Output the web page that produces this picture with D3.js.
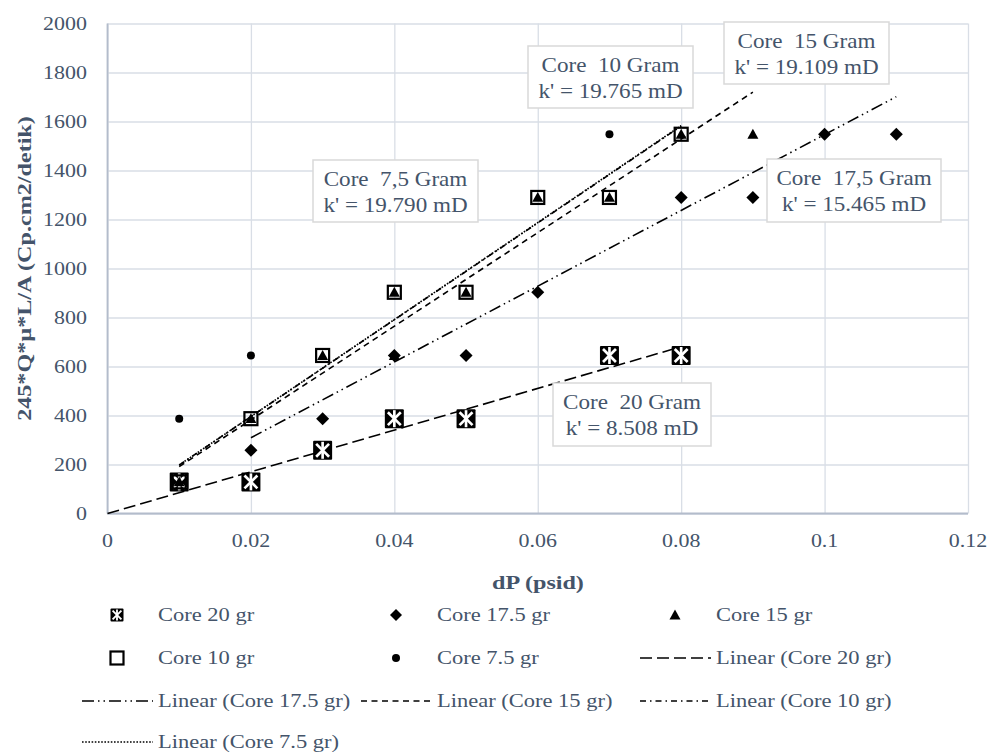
<!DOCTYPE html>
<html><head><meta charset="utf-8">
<script src="https://cdn.jsdelivr.net/npm/d3@7"></script>
<style>
body{margin:0;background:#fff}
text{font-family:"Liberation Serif","Times New Roman",serif;fill:#44546A;white-space:pre}
</style>
</head><body><svg id="c" width="989" height="756"></svg>
<script>
// ---------- data ----------
const xTicks = [0, 0.02, 0.04, 0.06, 0.08, 0.1, 0.12];
const xTickLabels = ["0", "0.02", "0.04", "0.06", "0.08", "0.1", "0.12"];
const yTicks = [0, 200, 400, 600, 800, 1000, 1200, 1400, 1600, 1800, 2000];
const seriesNames = ["Core 20 gr", "Core 17.5 gr", "Core 15 gr", "Core 10 gr", "Core 7.5 gr"];
const core20X = [0.01, 0.02, 0.03, 0.04, 0.05, 0.07, 0.08];
const core20Y = [129, 129, 258, 387, 387, 645, 645];
const core175X = [0.02, 0.03, 0.04, 0.05, 0.06, 0.08, 0.09, 0.1, 0.11];
const core175Y = [258, 387, 645, 645, 903, 1290, 1290, 1548, 1548];
const core15X = [0.01, 0.02, 0.03, 0.04, 0.04, 0.05, 0.06, 0.07, 0.08, 0.09];
const core15Y = [129, 387, 645, 645, 903, 903, 1290, 1290, 1548, 1548];
const core10X = [0.01, 0.02, 0.03, 0.04, 0.05, 0.06, 0.07, 0.08];
const core10Y = [129, 387, 645, 903, 903, 1290, 1290, 1548];
const core75X = [0.01, 0.02, 0.07];
const core75Y = [387, 645, 1548];
// linear trendlines (intercept 0): y = slope * x
const trendSlope = [8508, 15465, 19109, 19765, 19790];
const trendFrom = [0, 0.02, 0.01, 0.01, 0.01];
const trendTo = [0.08, 0.11, 0.09, 0.08, 0.08];
const annLine1 = ["Core  20 Gram", "Core  17,5 Gram", "Core  15 Gram", "Core  10 Gram", "Core  7,5 Gram"];
const annLine2 = ["k' = 8.508 mD", "k' = 15.465 mD", "k' = 19.109 mD", "k' = 19.765 mD", "k' = 19.790 mD"];
const xTitle = "dP (psid)";
const yTitle = "245*Q*µ*L/A (Cp.cm2/detik)";

// ---------- layout ----------
const svg = d3.select("#c");
const L = 107.5, R = 968, T = 23.5, B = 513.5;
const x = d3.scaleLinear().domain([0, 0.12]).range([L, R]);
const y = d3.scaleLinear().domain([0, 2000]).range([B, T]);
const TXT = "#44546A", GRID = "#d9dee6", AXIS = "#b3bccb";

function stext(parent, px, py, str, o) {
  const g = parent.append("g").attr("transform",
    `translate(${px},${py})` + (o.rot ? ` rotate(${o.rot})` : "") + ` scale(${o.sx || 1},1)`);
  return g.append("text").attr("text-anchor", o.anchor || "start").attr("dy", "0.35em")
    .style("font-size", o.size + "px").style("font-weight", o.weight || "normal").text(str);
}

// grid
svg.append("g").attr("transform", `translate(0,${B})`)
  .call(d3.axisBottom(x).tickValues(xTicks).tickSize(-(B - T)).tickFormat(""))
  .call(g => g.select(".domain").remove())
  .call(g => g.selectAll("line").attr("stroke", GRID).attr("stroke-width", 1.3));
svg.append("g").attr("transform", `translate(${L},0)`)
  .call(d3.axisLeft(y).tickValues(yTicks).tickSize(-(R - L)).tickFormat(""))
  .call(g => g.select(".domain").remove())
  .call(g => g.selectAll("line").attr("stroke", GRID).attr("stroke-width", 1.3));
// axis lines
svg.append("line").attr("x1", L).attr("x2", L).attr("y1", T).attr("y2", B).attr("stroke", AXIS).attr("stroke-width", 1.8);
svg.append("line").attr("x1", L).attr("x2", R).attr("y1", B).attr("y2", B).attr("stroke", AXIS).attr("stroke-width", 1.8);

// tick labels
xTicks.forEach((v, i) => stext(svg, x(v), 541, xTickLabels[i], {size: 18, sx: 1.22, anchor: "middle"}));
yTicks.forEach(v => stext(svg, 87, y(v), String(v), {size: 18, sx: 1.22, anchor: "end"}));

// titles
stext(svg, 538, 582, xTitle, {size: 19, sx: 1.27, anchor: "middle", weight: "bold"});
stext(svg, 24, (T + B) / 2, yTitle, {size: 19, sx: 1.27, anchor: "middle", weight: "bold", rot: -90});

// trendlines
const dashes = ["12,5", "12,4,1.5,4,1.5,4", "6,4.5", "6,4,1.5,4", "1.6,1.6"];
const plot = svg.append("g");
trendSlope.forEach((s, i) => {
  plot.append("line")
    .attr("x1", x(trendFrom[i])).attr("y1", y(s * trendFrom[i]))
    .attr("x2", x(trendTo[i])).attr("y2", y(s * trendTo[i]))
    .attr("stroke", "#000").attr("stroke-width", 1.6).attr("stroke-dasharray", dashes[i]);
});

// markers
function xbox(g, cx, cy, s) {
  const h = s / 2, m = s * 0.16;
  g.append("rect").attr("x", cx - h).attr("y", cy - h).attr("width", s).attr("height", s).attr("fill", "#000").attr("rx", 1);
  const w = g.append("g").attr("stroke", "#fff").attr("stroke-width", s * 0.14);
  w.append("line").attr("x1", cx - h + m).attr("y1", cy - h + m).attr("x2", cx + h - m).attr("y2", cy + h - m);
  w.append("line").attr("x1", cx + h - m).attr("y1", cy - h + m).attr("x2", cx - h + m).attr("y2", cy + h - m);
  w.append("line").attr("x1", cx).attr("y1", cy - h + 1).attr("x2", cx).attr("y2", cy + h - 1);
}
function diamond(g, cx, cy, r) {
  g.append("path").attr("d", `M${cx},${cy - r}L${cx + r},${cy}L${cx},${cy + r}L${cx - r},${cy}Z`).attr("fill", "#000");
}
function triangle(g, cx, cy, r) {
  g.append("path").attr("d", `M${cx},${cy - r}L${cx + r},${cy + r * 0.8}L${cx - r},${cy + r * 0.8}Z`).attr("fill", "#000");
}
function square(g, cx, cy, s) {
  g.append("rect").attr("x", cx - s / 2).attr("y", cy - s / 2).attr("width", s).attr("height", s)
    .attr("fill", "none").attr("stroke", "#000").attr("stroke-width", 2.2);
}
function dot(g, cx, cy, r) {
  g.append("circle").attr("cx", cx).attr("cy", cy).attr("r", r).attr("fill", "#000");
}

core20X.forEach((v, i) => xbox(plot, x(v), y(core20Y[i]), 19));
core175X.forEach((v, i) => diamond(plot, x(v), y(core175Y[i]), 6.5));
core15X.forEach((v, i) => triangle(plot, x(v), y(core15Y[i]), 5.5));
core10X.forEach((v, i) => square(plot, x(v), y(core10Y[i]), 13));
core75X.forEach((v, i) => dot(plot, x(v), y(core75Y[i]), 4));

// annotations (box positions in pixels)
const annBox = [[553, 383, 711, 446], [767, 159, 941, 222], [724, 22, 889, 84], [528, 46, 693, 108], [313, 160, 478, 222]];
annBox.forEach((b, i) => {
  svg.append("rect").attr("x", b[0]).attr("y", b[1]).attr("width", b[2] - b[0]).attr("height", b[3] - b[1])
    .attr("fill", "#fff").attr("stroke", "#d9d9d9").attr("stroke-width", 1.5);
  const cx = (b[0] + b[2]) / 2;
  stext(svg, cx, b[1] + 18.5, annLine1[i], {size: 22, sx: 1.05, anchor: "middle"});
  stext(svg, cx, b[1] + 44.5, annLine2[i], {size: 22, sx: 1.05, anchor: "middle"});
});

// legend
const legendItems = [
  {t: seriesNames[0], m: "xbox"}, {t: seriesNames[1], m: "diamond"}, {t: seriesNames[2], m: "triangle"},
  {t: seriesNames[3], m: "square"}, {t: seriesNames[4], m: "dot"}, {t: "Linear (" + seriesNames[0] + ")", d: 0},
  {t: "Linear (" + seriesNames[1] + ")", d: 1}, {t: "Linear (" + seriesNames[2] + ")", d: 2}, {t: "Linear (" + seriesNames[3] + ")", d: 3},
  {t: "Linear (" + seriesNames[4] + ")", d: 4}
];
const colX = [158, 437, 716], rowY = [615, 658, 701, 742];
const lg = svg.append("g");
legendItems.forEach((it, i) => {
  const tx = colX[i % 3], ty = rowY[Math.floor(i / 3)];
  const mx = tx - 41;
  if (it.m === "xbox") xbox(lg, mx, ty, 13);
  else if (it.m === "diamond") diamond(lg, mx, ty, 6);
  else if (it.m === "triangle") triangle(lg, mx, ty, 5.5);
  else if (it.m === "square") square(lg, mx, ty, 13);
  else if (it.m === "dot") dot(lg, mx, ty, 4);
  else lg.append("line").attr("x1", tx - 76).attr("x2", tx - 5).attr("y1", ty).attr("y2", ty)
    .attr("stroke", "#000").attr("stroke-width", 1.6).attr("stroke-dasharray", dashes[it.d]);
  stext(lg, tx, ty, it.t, {size: 18, sx: 1.25});
});
</script></body></html>
